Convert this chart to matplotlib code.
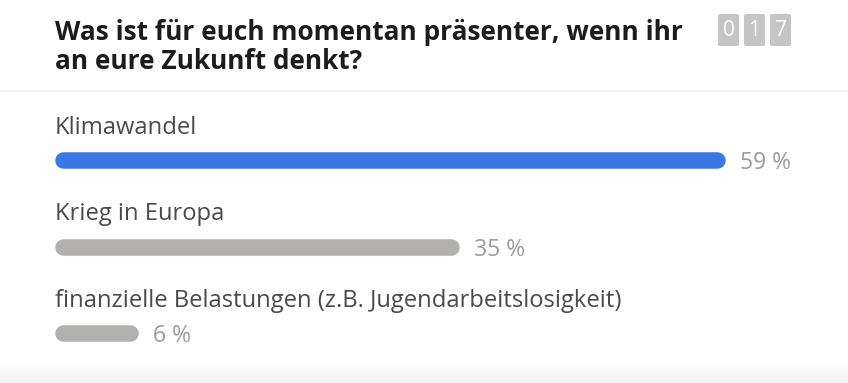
import matplotlib
matplotlib.use("Agg")
import matplotlib.pyplot as plt
import numpy as np
from matplotlib.patches import FancyBboxPatch

# ---- data ----
title_lines = ["Was ist für euch momentan präsenter, wenn ihr", "an eure Zukunft denkt?"]
categories = ["Klimawandel", "Krieg in Europa", "finanzielle Belastungen (z.B. Jugendarbeitslosigkeit)"]
values = [59, 35, 6]
counter = "017"
bar_colors = ["#3A78E8", "#B1B0AF", "#B1B0AF"]

W, H = 848, 383
fig = plt.figure(figsize=(W / 100, H / 100), dpi=100)
fig.patch.set_facecolor("white")

def fx(x):
    return x / W

def fy(y):
    return 1 - y / H

FONT = "Open Sans"

# title
fig.text(fx(55), fy(40), title_lines[0], fontsize=18.9, fontweight="bold",
         color="#1C1C1C", family=FONT, va="baseline", ha="left")
fig.text(fx(55), fy(69), title_lines[1], fontsize=18.9, fontweight="bold",
         color="#1C1C1C", family=FONT, va="baseline", ha="left")

# counter boxes (overlay axes in pixel coordinates)
ov = fig.add_axes([0, 0, 1, 1])
ov.set_xlim(0, W)
ov.set_ylim(H, 0)
ov.axis("off")
ov.set_zorder(0)
for i, d in enumerate(counter):
    x0 = 717 + i * 26
    box = FancyBboxPatch((x0 + 1, 14), 21, 32, boxstyle="round,pad=0,rounding_size=2",
                         facecolor="#C5C5C5", edgecolor="none")
    ov.add_patch(box)
    ov.text(x0 + 11.5, 31, d, color="white", fontsize=15, family=FONT,
            ha="center", va="center")

# separator line
ov.plot([0, W], [90.5, 90.5], color="#EEF2F9", lw=1.5)

# bottom shadow gradient
grad = np.linspace(0, 1, 50).reshape(-1, 1)
cmap = matplotlib.colors.LinearSegmentedColormap.from_list("g", ["#FFFFFF", "#F3F3F3"])
ov.imshow(grad, extent=[0, W, 383, 362], cmap=cmap, aspect="auto", zorder=0)
ov.set_xlim(0, W)
ov.set_ylim(H, 0)

# bars axes: caps of radius r extend outside the axes
r = 8.25
left_px, right_px = 55 + r, 725 - r
top_px, bottom_px = 100, 370
ax = fig.add_axes([fx(left_px), fy(bottom_px), (right_px - left_px) / W, (bottom_px - top_px) / H])
ax.set_xlim(0, max(values))
ax.set_ylim(bottom_px, top_px)
ax.axis("off")
ax.patch.set_alpha(0)

bar_y = [160, 246.5, 333]
lw_pt = 2 * r * 72 / 100
for i, (cat, v) in enumerate(zip(categories, values)):
    yb = bar_y[i]
    ax.plot([0, v], [yb, yb], color=bar_colors[i], lw=lw_pt, solid_capstyle="round",
            clip_on=False)
    ax.annotate(f"{v} %", xy=(v, yb), xytext=(r + 15, 0), textcoords="offset pixels",
                fontsize=16.5, color="#9B9B9B", family=FONT, ha="left", va="center_baseline",
                annotation_clip=False)
    ax.annotate(cat, xy=(0, yb), xytext=(-r, 26), textcoords="offset pixels",
                fontsize=17.1, color="#4A4A4A", family=FONT, ha="left", va="baseline",
                annotation_clip=False)

fig.savefig("out.png", dpi=100, facecolor="white")
